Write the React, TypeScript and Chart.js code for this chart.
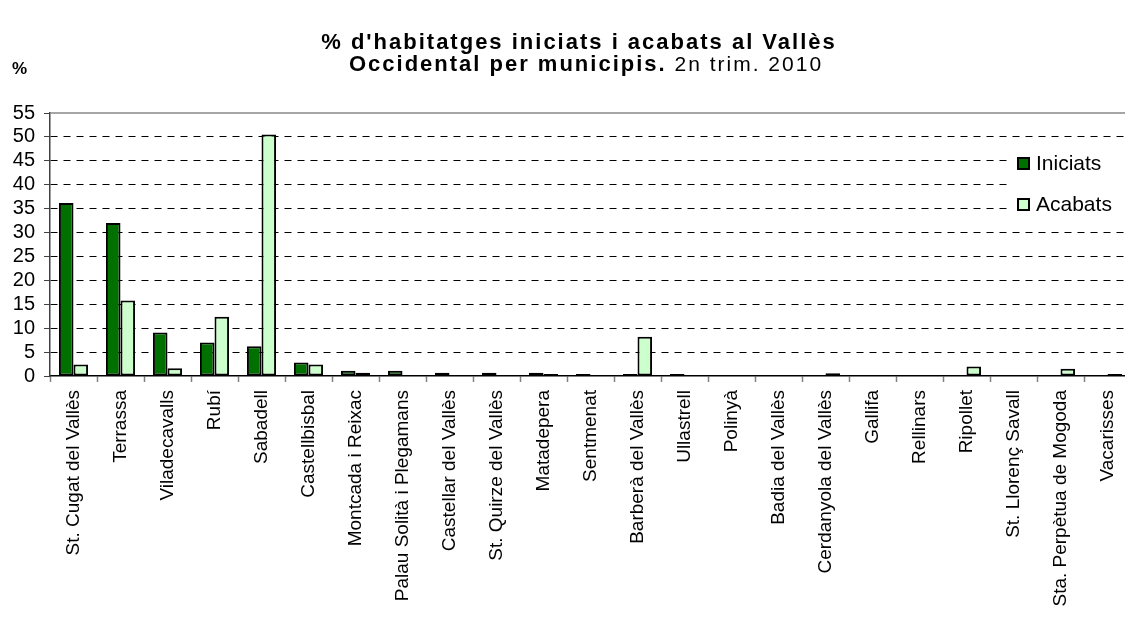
import React, { useEffect, useRef } from "react";
import { Chart, registerables } from "chart.js";

Chart.register(...registerables);

const categories = [
  "St. Cugat del Vallès",
  "Terrassa",
  "Viladecavalls",
  "Rubí",
  "Sabadell",
  "Castellbisbal",
  "Montcada i Reixac",
  "Palau Solità i Plegamans",
  "Castellar del Vallès",
  "St. Quirze del Vallès",
  "Matadepera",
  "Sentmenat",
  "Barberà del Vallès",
  "Ullastrell",
  "Polinyà",
  "Badia del Vallès",
  "Cerdanyola del Vallès",
  "Gallifa",
  "Rellinars",
  "Ripollet",
  "St. Llorenç Savall",
  "Sta. Perpètua de Mogoda",
  "Vacarisses",
];

const iniciats = [36.2, 32.0, 9.1, 7.0, 6.2, 2.8, 1.1, 1.1, 0.7, 0.7, 0.7, 0.4, 0.4, 0.4, 0, 0, 0, 0, 0, 0, 0, 0, 0];
const acabats = [2.4, 15.8, 1.6, 12.4, 50.5, 2.4, 0.7, 0, 0, 0, 0.4, 0, 8.2, 0, 0, 0, 0.6, 0, 0, 2.0, 0, 1.5, 0.4];

const seriesNames = ["Iniciats", "Acabats"];
const yMin = 0;
const yMax = 55;
const yStep = 5;

const titleLine1 = "% d'habitatges iniciats i acabats al Vallès";
const titleLine2Bold = "Occidental per municipis.";
const titleLine2Normal = " 2n trim. 2010";
const yUnitLabel = "%";

const DARK = "#007000";
const LIGHT = "#ccffcc";
const FONT = '"Liberation Sans", Arial, sans-serif';

const decorPlugin = {
  id: "decor",
  afterDraw(chart: any) {
    const { ctx, chartArea } = chart;
    ctx.save();
    // top border of plot
    ctx.strokeStyle = "#888888";
    ctx.lineWidth = 1.5;
    ctx.setLineDash([]);
    ctx.beginPath();
    ctx.moveTo(chartArea.left, chartArea.top);
    ctx.lineTo(chartArea.right, chartArea.top);
    ctx.stroke();

    // title
    ctx.fillStyle = "#000";
    ctx.textBaseline = "middle";
    ctx.textAlign = "left";
    (ctx as any).letterSpacing = "2px";
    ctx.font = `bold 22px ${FONT}`;
    const w1 = ctx.measureText(titleLine1).width;
    ctx.fillText(titleLine1, 579 - w1 / 2, 43);
    const wb = ctx.measureText(titleLine2Bold).width;
    ctx.font = `21px ${FONT}`;
    const wn = ctx.measureText(titleLine2Normal).width;
    const start = 586 - (wb + wn) / 2;
    ctx.font = `bold 22px ${FONT}`;
    ctx.fillText(titleLine2Bold, start, 65);
    ctx.font = `21px ${FONT}`;
    ctx.fillText(titleLine2Normal, start + wb, 65);
    (ctx as any).letterSpacing = "0px";

    // unit label
    ctx.font = `bold 17px ${FONT}`;
    ctx.fillText(yUnitLabel, 12, 69);

    // legend
    ctx.fillStyle = "#fff";
    ctx.fillRect(1011, 150, 125, 72);
    const items = [
      { name: seriesNames[0], color: DARK, y: 163 },
      { name: seriesNames[1], color: LIGHT, y: 204 },
    ];
    ctx.font = `21px ${FONT}`;
    for (const it of items) {
      ctx.fillStyle = it.color;
      ctx.fillRect(1018, it.y - 5, 11, 11);
      ctx.strokeStyle = "#000";
      ctx.lineWidth = 2;
      ctx.strokeRect(1018, it.y - 5, 11, 11);
      ctx.fillStyle = "#000";
      ctx.fillText(it.name, 1036, it.y + 1);
    }
    ctx.restore();
  },
};

export default function App() {
  const ref = useRef<HTMLCanvasElement>(null);

  useEffect(() => {
    document.body.style.margin = "0";
    const canvas = ref.current;
    if (!canvas) return;
    const chart = new Chart(canvas, {
      type: "bar",
      data: {
        labels: categories,
        datasets: [
          {
            label: seriesNames[0],
            data: iniciats,
            backgroundColor: DARK,
            borderColor: "#000",
            borderWidth: 2,
            borderSkipped: false,
            categoryPercentage: 0.62,
            barPercentage: 1,
          },
          {
            label: seriesNames[1],
            data: acabats,
            backgroundColor: LIGHT,
            borderColor: "#000",
            borderWidth: 2,
            borderSkipped: false,
            categoryPercentage: 0.62,
            barPercentage: 1,
          },
        ],
      },
      options: {
        responsive: false,
        animation: false,
        devicePixelRatio: 1,
        layout: { padding: { left: 0, top: 113, right: 9, bottom: 0 } },
        plugins: {
          legend: { display: false },
          title: { display: false },
          tooltip: { enabled: false },
        },
        scales: {
          x: {
            afterFit(scale: any) {
              scale.height = 256;
            },
            grid: {
              display: true,
              drawOnChartArea: false,
              offset: true,
              drawTicks: true,
              tickLength: 6,
              tickColor: "#808080",
              tickWidth: 1.5,
            },
            border: { display: true, color: "#000", width: 1.5 },
            ticks: {
              autoSkip: false,
              minRotation: 90,
              maxRotation: 90,
              padding: 8,
              color: "#000",
              font: { family: FONT, size: 19 },
            },
          },
          y: {
            min: yMin,
            max: yMax,
            afterFit(scale: any) {
              scale.width = 50;
            },
            grid: {
              color: (c: any) =>
                c.tick && (c.tick.value === yMin || c.tick.value === yMax) ? "rgba(0,0,0,0)" : "#000",
              lineWidth: 1,
              drawTicks: true,
              tickLength: 6,
              tickColor: "#404040",
            },
            border: { display: true, color: "#404040", width: 1.5, dash: [7, 6] },
            ticks: {
              stepSize: yStep,
              autoSkip: false,
              maxTicksLimit: 20,
              padding: 9,
              color: "#000",
              font: { family: FONT, size: 20 },
            },
          },
        },
      },
      plugins: [decorPlugin],
    });
    return () => chart.destroy();
  }, []);

  return (
    <div style={{ width: 1125, height: 632, overflow: "hidden", position: "relative", background: "#fff" }}>
      <canvas ref={ref} width={1140} height={632} style={{ width: 1140, height: 632, display: "block" }} />
    </div>
  );
}
